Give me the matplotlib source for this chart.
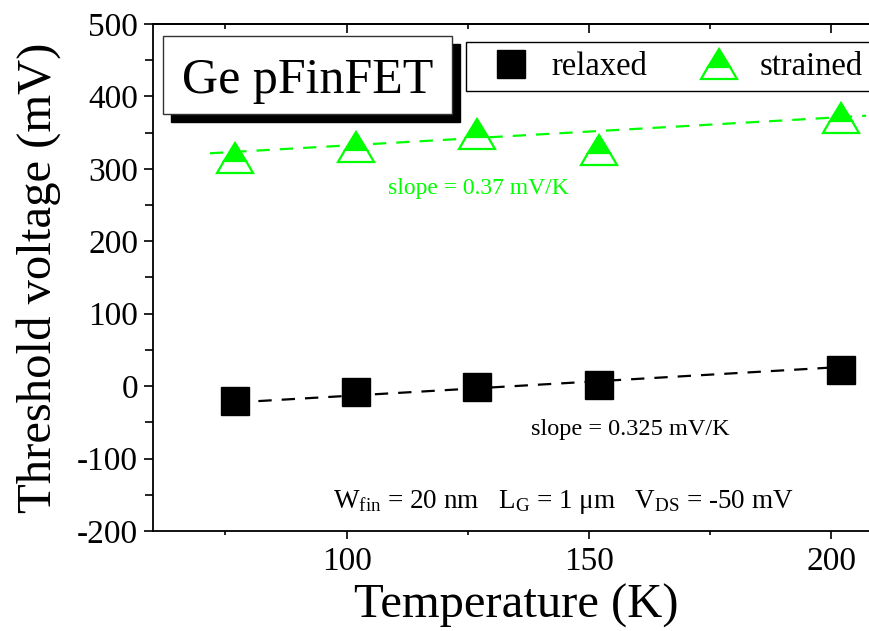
import matplotlib
matplotlib.use("Agg")
import matplotlib.pyplot as plt
from matplotlib.lines import Line2D
from matplotlib.markers import MarkerStyle
from matplotlib.transforms import Affine2D
from matplotlib.patches import Rectangle
from matplotlib.ticker import MultipleLocator

# ---- data ----
temperature = [77, 102, 127, 152, 202]
vt_relaxed = [-20.5, -7.8, -0.9, 0.9, 22.7]
vt_strained = [315.4, 329.9, 347.9, 326.5, 369.8]
fit_relaxed_x = [77, 206.5]
fit_relaxed_y = [-22.5, 28.2]
fit_strained_x = [71.8, 207.2]
fit_strained_y = [321.5, 373.4]
series_labels = ["relaxed", "strained"]
slope_relaxed_text = "slope = 0.325 mV/K"
slope_strained_text = "slope = 0.37 mV/K"
cond_text = r"W$_{\mathrm{fin}}$ = 20 nm   L$_{\mathrm{G}}$ = 1 μm   V$_{\mathrm{DS}}$ = -50 mV"
title_text = "Ge pFinFET"

plt.rcParams["font.family"] = ["Liberation Serif", "DejaVu Serif"]
plt.rcParams["mathtext.fontset"] = "custom"
plt.rcParams["mathtext.rm"] = "Liberation Serif"
plt.rcParams["mathtext.it"] = "Liberation Serif:italic"
plt.rcParams["axes.unicode_minus"] = False

GREEN = "#00ff00"
W, H = 870, 631
fig = plt.figure(figsize=(8.7, 6.31), dpi=100)
ax_l, ax_r, ax_t, ax_b = 152.7, 870, 24, 531
ax = fig.add_axes([ax_l / W, 1 - ax_b / H, (ax_r - ax_l) / W, (ax_b - ax_t) / H])

def fx(px):
    return px / W

def fy(py):
    return 1 - py / H

tri = MarkerStyle("^", fillstyle="top", transform=Affine2D().scale(1.0, 0.86))
SQ_MS, TRI_MS = 19.5, 25.5

ax.plot(fit_strained_x, fit_strained_y, color=GREEN, lw=1.6, dashes=(6, 4.5))
ax.plot(fit_relaxed_x, fit_relaxed_y, color="black", lw=1.6, dashes=(6, 4.5))
ax.plot(temperature, vt_relaxed, ls="none", marker="s", ms=SQ_MS, mfc="black",
        mec="black", mew=1.0, zorder=3)
ax.plot(temperature, vt_strained, ls="none", marker=tri, ms=TRI_MS, mfc=GREEN,
        mfcalt="white", mec=GREEN, mew=1.6, zorder=3)

ax.set_xlim(60, 208)
ax.set_ylim(-200, 500)
ax.xaxis.set_major_locator(MultipleLocator(50))
ax.xaxis.set_minor_locator(MultipleLocator(25))
ax.yaxis.set_major_locator(MultipleLocator(100))
ax.yaxis.set_minor_locator(MultipleLocator(50))

for s in ["left", "bottom", "top"]:
    ax.spines[s].set_linewidth(1.3)
ax.spines["right"].set_visible(False)
ax.tick_params(axis="x", which="major", direction="out", length=6, width=1.2,
               labelsize=24, pad=5, top=False)
ax.tick_params(axis="x", which="minor", direction="out", length=3, width=1.2, top=False)
ax.tick_params(axis="y", which="major", direction="out", length=6.5, width=1.2,
               labelsize=24, pad=4, right=False)
ax.tick_params(axis="y", which="minor", direction="out", length=5.5, width=1.2, right=False)

sec = ax.secondary_xaxis("top")
sec.xaxis.set_major_locator(MultipleLocator(50))
sec.xaxis.set_minor_locator(MultipleLocator(25))
sec.tick_params(axis="x", which="major", direction="in", length=6.5, width=1.2, labeltop=False)
sec.tick_params(axis="x", which="minor", direction="in", length=3.5, width=1.2)
sec.spines["top"].set_linewidth(1.3)

ax.set_xlabel("Temperature (K)", fontsize=35)
ax.set_ylabel("Threshold voltage (mV)", fontsize=35)
ax.xaxis.set_label_coords(0.5065, -0.104)
ax.yaxis.set_label_coords(-0.1285, 0.5)

# legend
handles = [
    Line2D([], [], ls="none", marker="s", ms=SQ_MS, mfc="black", mec="black", mew=1.0),
    Line2D([], [], ls="none", marker=tri, ms=TRI_MS, mfc=GREEN, mfcalt="white",
           mec=GREEN, mew=1.6),
]
leg = ax.legend(handles, series_labels, ncol=2, loc="upper left",
                bbox_to_anchor=(fx(465.7), fy(42.3)), bbox_transform=fig.transFigure,
                borderaxespad=0, fontsize=23.5, frameon=True, fancybox=False,
                shadow=False, framealpha=1, edgecolor="black", borderpad=0.28,
                handlelength=2.2, handletextpad=0.15, columnspacing=1.1)
leg.get_frame().set_linewidth(1.0)

# title box with shadow
fig.patches.append(Rectangle((fx(171.3), fy(121.8)), (452.3 - 163.3) / W, (114.3 - 36) / H,
                             transform=fig.transFigure, facecolor="black",
                             edgecolor="black", zorder=5))
fig.patches.append(Rectangle((fx(163.3), fy(114.3)), (452.3 - 163.3) / W, (114.3 - 36) / H,
                             transform=fig.transFigure, facecolor="white",
                             edgecolor="#333333", lw=1.0, zorder=6))
fig.text(fx(307.9), fy(93.3), title_text, fontsize=36, ha="center", va="baseline", zorder=7)

# annotations
fig.text(fx(388), fy(194.3), slope_strained_text, fontsize=17, color=GREEN, va="baseline")
fig.text(fx(530.7), fy(435), slope_relaxed_text, fontsize=17.5, color="black", va="baseline")
fig.text(fx(333), fy(508.3), cond_text, fontsize=19.5, color="black", va="baseline")

fig.savefig("out.png", dpi=100)
